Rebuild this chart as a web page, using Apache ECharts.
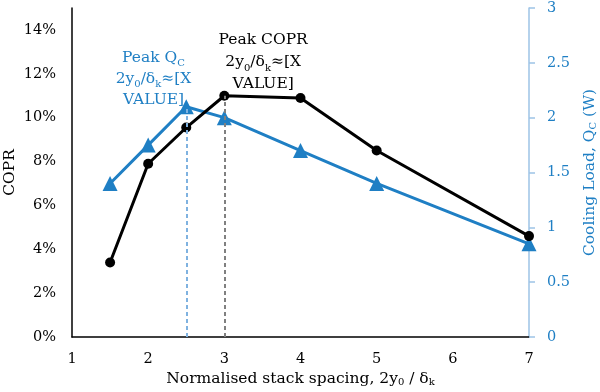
<!DOCTYPE html>
<html><head><meta charset="utf-8">
<script src="https://cdn.jsdelivr.net/npm/echarts@6/dist/echarts.min.js"></script>
<style>html,body{margin:0;padding:0;background:#fff}#c{width:600px;height:392px}</style>
</head><body><div id="c"></div>
<script>
const xValues = [1.5, 2, 2.5, 3, 4, 5, 7];
const coprValues = [0.034, 0.079, 0.0955, 0.110, 0.109, 0.085, 0.046];
const qcValues = [1.4, 1.75, 2.1, 2.0, 1.7, 1.4, 0.85];
const peakQcX = 2.5, peakQcY = 2.1;
const peakCoprX = 3, peakCoprY = 0.110;

const FONT = 'DejaVu Serif';
const BLUE = '#1f7fc4';
const LIGHTBLUE = '#7fb2e0';
const subStyle = {fontSize: 10, fontFamily: FONT, verticalAlign: 'bottom', padding: [7, 0, 0, 0]};

const chart = echarts.init(document.getElementById('c'), null, {renderer: 'canvas'});
chart.setOption({
  animation: false,
  grid: {left: 72, right: 71, top: 8, bottom: 55, outerBoundsMode: 'none', containLabel: false},
  xAxis: {
    type: 'value', min: 1, max: 7, interval: 1,
    axisLine: {lineStyle: {color: '#000', width: 1.5}},
    axisTick: {show: false}, splitLine: {show: false},
    axisLabel: {color: '#000', fontFamily: FONT, fontSize: 14.5, margin: 15},
    name: 'Normalised stack spacing, 2y{sub|0} / δ{sub|k}',
    nameLocation: 'middle', nameGap: 33, nameMoveOverlap: false,
    nameTextStyle: {color: '#000', fontFamily: FONT, fontSize: 15.5,
      rich: {sub: Object.assign({}, subStyle, {color: '#000'})}}
  },
  yAxis: [{
    type: 'value', min: 0, max: 0.15, interval: 0.02,
    axisLine: {show: true, lineStyle: {color: '#000', width: 1.5}},
    axisTick: {show: false}, splitLine: {show: false},
    axisLabel: {color: '#000', fontFamily: FONT, fontSize: 14.5, margin: 16, showMaxLabel: false,
      formatter: v => Math.round(v * 100) + '%'},
    name: 'COPR', nameLocation: 'middle', nameGap: 54, nameMoveOverlap: false,
    nameTextStyle: {color: '#000', fontFamily: FONT, fontSize: 15.5}
  }, {
    type: 'value', min: 0, max: 3, interval: 0.5, position: 'right',
    axisLine: {show: true, lineStyle: {color: '#9dc3e6', width: 1.5}},
    axisTick: {show: true, length: 6, lineStyle: {color: '#9dc3e6', width: 1.5}},
    splitLine: {show: false},
    axisLabel: {color: BLUE, fontFamily: FONT, fontSize: 14.5, margin: 18},
    name: 'Cooling Load, Q{sub|C} (W)', nameLocation: 'middle', nameGap: 52, nameMoveOverlap: false,
    nameTextStyle: {color: BLUE, fontFamily: FONT, fontSize: 15.5,
      rich: {sub: Object.assign({}, subStyle, {color: BLUE})}}
  }],
  series: [{
    type: 'line', yAxisIndex: 1, z: 2,
    data: xValues.map((x, i) => [x, qcValues[i]]),
    symbol: 'triangle', symbolSize: 15,
    lineStyle: {color: BLUE, width: 3}, itemStyle: {color: BLUE},
    markLine: {
      silent: true, symbol: 'none', label: {show: false},
      lineStyle: {color: LIGHTBLUE, type: [4, 3], width: 2},
      data: [[{coord: [peakQcX, 0]}, {coord: [peakQcX, peakQcY]}]]
    },
    markPoint: {
      symbolSize: 0, silent: true,
      data: [{coord: [2.07, 2.35]}],
      label: {show: true, position: 'inside', color: BLUE, fontFamily: FONT, fontSize: 15.5,
        lineHeight: 21, align: 'center',
        formatter: 'Peak Q{sub|C}\n2y{sub|0}/δ{sub|k}≈[X\nVALUE]',
        rich: {sub: Object.assign({}, subStyle, {color: BLUE})}}
    }
  }, {
    type: 'line', yAxisIndex: 0, z: 3,
    data: xValues.map((x, i) => [x, coprValues[i]]),
    symbol: 'circle', symbolSize: 10,
    lineStyle: {color: '#000', width: 3}, itemStyle: {color: '#000'},
    markLine: {
      silent: true, symbol: 'none', label: {show: false},
      lineStyle: {color: '#808080', type: [4, 3], width: 2},
      data: [[{coord: [peakCoprX, 0]}, {coord: [peakCoprX, peakCoprY]}]]
    },
    markPoint: {
      symbolSize: 0, silent: true,
      data: [{coord: [3.51, 0.1254]}],
      label: {show: true, position: 'inside', color: '#000', fontFamily: FONT, fontSize: 15.5,
        lineHeight: 22, align: 'center',
        formatter: 'Peak COPR\n2y{sub|0}/δ{sub|k}≈[X\nVALUE]',
        rich: {sub: Object.assign({}, subStyle, {color: '#000'})}}
    }
  }]
});
</script></body></html>
